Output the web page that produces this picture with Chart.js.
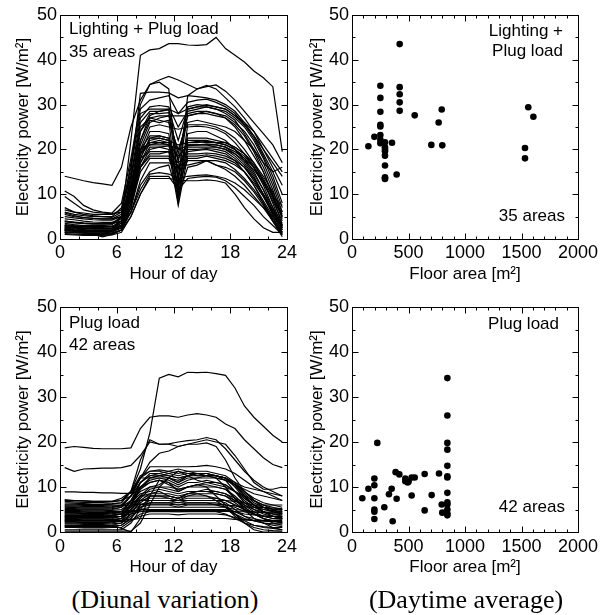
<!DOCTYPE html>
<html>
<head>
<meta charset="utf-8">
<script src="https://cdn.jsdelivr.net/npm/chart.js@4.4.1/dist/chart.umd.min.js"></script>
<style>
  body { margin: 0; background: #fff; }
  #page { position: relative; width: 606px; height: 615px; overflow: hidden; background: #fff; }
  canvas { position: absolute; display: block; }
  .note { position: absolute; font-family: 'Liberation Sans', Arial, sans-serif; font-size: 17px; line-height: 20px; color: #000; white-space: nowrap; }
  .caption { position: absolute; font-family: 'Liberation Serif', 'Times New Roman', serif; font-size: 26px; line-height: 30px; color: #000; white-space: nowrap; transform: translateX(-50%); }
</style>
</head>
<body>
<div id="page">
  <canvas id="lightingDiurnal" width="303" height="290" style="left:0;top:0"></canvas>
  <canvas id="lightingAverage" width="306" height="290" style="left:300px;top:0"></canvas>
  <canvas id="plugDiurnal" width="303" height="290" style="left:0;top:290px"></canvas>
  <canvas id="plugAverage" width="306" height="290" style="left:300px;top:290px"></canvas>

  <div class="note" style="left:69px;top:19px">Lighting + Plug load</div>
  <div class="note" style="left:69px;top:42px">35 areas</div>
  <div class="note" style="right:43px;top:21px;text-align:right">Lighting +<br>Plug load</div>
  <div class="note" style="right:41px;top:206px">35 areas</div>
  <div class="note" style="left:69px;top:313px">Plug load</div>
  <div class="note" style="left:69px;top:335px">42 areas</div>
  <div class="note" style="right:47px;top:314px">Plug load</div>
  <div class="note" style="right:41px;top:497px">42 areas</div>

  <div class="caption" style="left:165px;top:585px">(Diunal variation)</div>
  <div class="caption" style="left:466px;top:585px">(Daytime average)</div>
</div>

<script>
// hour of day (middle of each hourly interval)
const hours = [0.5,1.5,2.5,3.5,4.5,5.5,6.5,7.5,8.5,9.5,10.5,11.5,12.5,13.5,14.5,15.5,16.5,17.5,18.5,19.5,20.5,21.5,22.5,23.5]

// lighting + plug load, 35 areas [W/m2]
const lightingPlugLines = [
  [2.0,1.9,1.8,1.8,1.9,2.0, 5,22,41, 42.2,42.5,43.6, 43.6,43.3,43.2,43.4,45.0,42.5, 41.0,39.5,37.5,36.0,34.0,19.5],
  [14.0,13.5,13.0,12.6,12.3,12.0, 16,25,31, 34.5,35.5,36.3, 35.5,34.5,33.5,34.0,34.4,33.0, 31.0,28.5,26.0,23.5,21.0,17.0],
  [10.7,9.5,7.5,6.5,6.0,5.8, 8,18,30, 34.5,35.0,33.5, 12.5,32.0,33.5,34.3,33.5,31.5, 29.5,27.0,24.0,20.0,16.0,12.0],
  [6.5,6.0,5.5,5.2,5.0,4.8, 6,15,32.5, 32.8,32.8,32.6, 31.5,32.0,31.8,31.5,31.0,30.0, 28.5,26.0,23.0,19.0,15.0,10.0],
  [3.5,3.2,3.0,3.0,3.0,3.2, 5,17,29, 31.0,31.5,32.0, 28.0,30.5,31.0,31.2,30.5,29.5, 28.0,25.5,22.5,18.5,14.0,8.0],
  [2.5,2.4,2.3,2.2,2.2,2.3, 4,14,27, 29.5,29.8,29.5, 25.0,28.5,29.0,29.5,29.0,28.5, 27.0,25.0,22.0,18.0,13.0,7.0],
  [6.0,5.5,5.2,5.0,5.0,5.0, 7,16,28, 29.0,29.0,29.0, 17.0,29.5,30.0,29.8,29.5,29.0, 27.5,25.5,23.0,20.0,17.0,14.0],
  [4.0,3.8,3.6,3.5,3.4,3.4, 5,13,26, 28.5,28.5,28.8, 22.0,29.0,29.5,29.5,29.0,28.0, 26.5,23.5,20.0,16.0,11.0,5.0],
  [2.0,1.8,1.7,1.6,1.6,1.7, 3,10,24, 28.0,28.0,28.2, 14.0,28.0,28.5,28.5,28.0,27.0, 25.0,22.0,18.5,15.0,10.0,4.5],
  [1.5,1.4,1.3,1.2,1.2,1.3, 2,11,25, 27.0,27.5,27.5, 19.0,27.5,28.0,28.0,27.5,27.0, 25.5,23.0,19.5,15.0,9.5,3.0],
  [3.0,2.9,2.8,2.7,2.7,2.8, 4,12,22, 26.5,26.0,26.5, 9.0,25.5,25.5,25.5,25.0,24.0, 22.5,20.0,17.0,13.0,8.0,2.5],
  [2.2,2.0,1.9,1.8,1.8,1.9, 3,9,20, 25.0,25.5,25.0, 24.5,25.0,25.2,25.0,24.5,23.5, 21.5,19.0,16.0,12.5,8.5,4.0],
  [5.0,4.7,4.5,4.3,4.2,4.2, 5,10,19, 24.0,24.0,23.5, 11.0,23.5,24.0,24.0,23.0,22.0, 20.0,17.5,14.5,11.0,7.0,3.5],
  [3.0,2.8,2.5,2.4,2.3,2.4, 3,8,18, 22.5,23.0,22.5, 15.5,22.0,22.0,22.0,21.5,21.5, 20.5,19.0,17.0,14.0,10.5,6.0],
  [2.0,1.9,1.8,1.8,1.8,1.9, 3,9,19, 22.0,22.5,22.0, 8.0,21.5,21.8,21.5,21.5,21.0, 20.0,18.5,16.0,12.0,7.0,2.0],
  [1.8,1.7,1.6,1.6,1.6,1.7, 2.5,7,17, 21.5,22.0,21.5, 18.0,21.0,21.0,21.2,21.0,20.5, 19.0,17.0,14.0,10.0,5.5,1.5],
  [2.6,2.5,2.4,2.3,2.3,2.4, 3.5,11,20, 21.0,21.5,21.0, 20.0,20.8,21.0,21.0,20.5,20.0, 19.0,17.5,15.5,12.5,9.0,5.0],
  [4.5,4.3,4.0,3.8,3.7,3.7, 4.5,10,19, 21.0,21.0,21.0, 12.0,20.5,20.5,20.5,20.5,20.0, 18.5,16.5,13.5,10.0,6.5,3.0],
  [2.0,1.8,1.7,1.7,1.7,1.8, 2.5,8,17, 20.5,20.5,20.8, 16.0,20.0,20.0,20.2,20.0,19.5, 18.0,16.0,13.0,9.5,5.5,2.0],
  [1.2,1.1,1.0,1.0,1.0,1.1, 2,7,16, 20.0,20.5,20.0, 10.0,19.5,19.8,20.0,19.5,19.0, 17.5,15.0,12.0,8.5,5.0,1.0],
  [3.2,3.0,2.9,2.8,2.8,2.9, 3.5,9,18, 22.5,22.5,22.0, 21.0,21.5,21.5,21.8,21.5,21.0, 20.0,18.0,15.0,11.0,6.0,2.5],
  [5.5,5.0,4.8,4.6,4.5,4.5, 5.5,12,20, 23.0,23.0,22.5, 13.5,22.5,22.5,22.5,22.0,21.5, 20.5,19.0,16.5,13.5,9.5,5.5],
  [2.4,2.2,2.1,2.0,2.0,2.1, 3,10,18, 19.5,19.5,19.5, 17.0,19.0,19.0,19.2,19.0,18.5, 17.5,16.0,13.5,10.0,6.0,2.5],
  [1.6,1.5,1.4,1.4,1.4,1.5, 2.5,8,16, 19.0,19.0,19.5, 7.5,18.5,18.5,18.8,18.5,18.0, 17.0,15.0,12.0,8.0,4.0,0.5],
  [3.8,3.6,3.4,3.3,3.3,3.4, 4,9,16, 18.5,18.5,18.5, 14.5,18.0,18.0,18.5,18.0,17.5, 16.5,15.0,12.5,9.5,6.0,3.0],
  [2.8,2.6,2.5,2.4,2.4,2.5, 3,7,15, 18.0,18.0,18.0, 12.5,17.5,17.5,17.5,17.5,17.0, 15.5,13.5,11.0,8.0,4.5,1.5],
  [1.5,1.4,1.3,1.2,1.2,1.3, 2,6,13, 17.0,17.0,17.0, 16.5,16.5,17.0,17.5,16.5,16.0, 15.0,13.0,10.5,7.5,4.0,1.5],
  [2.2,2.0,1.9,1.9,1.9,2.0, 2.5,6,12, 15.0,16.0,16.5, 9.5,16.0,16.5,17.5,16.5,15.5, 14.0,12.0,9.5,7.0,4.0,1.0],
  [3.0,2.8,2.7,2.6,2.6,2.7, 3,6,11, 14.5,14.8,14.5, 13.5,14.0,14.2,14.3,14.0,13.5, 12.5,11.0,9.0,7.0,5.0,3.0],
  [1.0,0.9,0.8,0.8,0.8,0.9, 1.5,5,10, 14.0,14.0,14.0, 11.0,13.5,13.8,14.0,13.8,13.0, 11.5,9.5,7.5,5.0,3.0,1.0],
  [2.5,2.0,1.5,1.0,0.5,1.0, 2,5,10, 13.5,13.5,13.5, 13.2,13.0,13.0,13.2,13.0,12.5, 10.0,7.0,4.5,2.5,1.5,1.5],
  [7.0,6.0,5.8,5.5,5.5,5.5, 6.5,14,24, 27.0,26.5,26.0, 20.0,26.0,26.5,26.0,25.5,25.0, 24.0,22.0,20.0,17.0,15.0,16.0],
  [4.0,3.7,3.5,3.4,3.4,3.5, 4,11,21, 26.0,27.0,27.5, 27.5,27.5,28.0,28.5,28.0,27.5, 26.0,24.0,21.0,17.0,12.0,6.0],
  [5.8,5.2,4.8,4.6,4.5,4.5, 5,12,22, 27.5,28.5,29.0, 28.0,29.0,29.5,30.0,29.5,29.0, 27.5,26.0,24.0,21.0,18.0,15.0],
  [9.5,8.0,6.5,6.0,5.8,5.6, 6,10,20, 21.5,21.5,21.5, 18.5,21.0,21.0,21.0,21.0,20.5, 19.5,18.0,16.0,13.0,9.5,7.5]
]

// plug load only, 42 areas [W/m2]
const plugLines = [
  [7.0,7.0,6.9,6.8,6.8,6.8, 7.5,9,14, 22,34.2,35.0, 34.5,35.5,35.4,35.5,35.2,34.8, 32,28,25.5,23.5,21.5,20.0],
  [18.7,19.0,18.8,18.6,18.5,18.5, 18.5,18.7,23, 25.5,25.8,25.8, 25.5,26.0,26.3,26.0,25.5,24.0, 23.0,20.5,18.5,16.5,15.0,14.3],
  [14.3,13.5,14.0,14.1,14.2,14.2, 14.3,14.8,17, 20.0,19.5,19.6, 20.0,20.3,20.5,21.0,20.5,18.5, 16.0,13.5,11.5,10.0,9.0,8.0],
  [8.9,8.9,8.8,8.8,8.7,8.7, 8.6,8.6,12, 15.5,17.5,18.0, 19.0,19.5,20.0,20.5,20.0,19.5, 17.0,14.0,11.0,9.5,9.5,10.0],
  [6.5,6.4,6.3,6.2,6.2,6.3, 6.5,9,16, 20.5,19.5,19.5, 19.0,19.5,19.5,19.8,19.0,16.0, 12.0,9.0,7.0,6.0,5.5,5.0],
  [5.5,5.4,5.3,5.3,5.3,5.4, 6,8,12, 14.5,14.5,14.5, 14.5,14.5,14.6,14.8,14.5,14.0, 13.0,11.5,10.0,9.0,8.0,7.0],
  [5.0,5.0,4.9,4.9,4.9,5.0, 5.5,8,12, 13.5,13.8,13.5, 13.0,13.5,13.5,13.5,13.0,12.5, 11.0,9.0,7.0,5.5,4.5,4.0],
  [4.5,4.4,4.4,4.3,4.3,4.4, 4.5,6,11, 13.0,13.0,13.5, 14.0,13.5,13.0,13.0,12.5,12.0, 10.0,7.5,6.0,5.0,4.5,4.5],
  [3.5,3.5,3.4,3.4,3.4,3.5, 4,7,11, 12.5,12.5,12.0, 11.5,12.5,13.0,12.5,12.5,12.0, 10.5,8.0,6.0,4.5,3.5,3.0],
  [6.8,6.7,6.6,6.6,6.6,6.7, 7,9,12, 12.0,12.0,11.5, 10.5,11.5,12.0,12.5,12.5,12.0, 10.5,8.5,6.5,5.5,5.0,5.0],
  [2.5,2.5,2.4,2.4,2.4,2.5, 3,6,10, 12.0,12.5,13.0, 13.5,13.0,12.5,12.5,12.0,11.5, 9.0,6.5,5.0,4.0,3.5,3.0],
  [4.0,4.0,3.9,3.9,3.9,4.0, 4.5,7,10, 11.5,12.0,12.0, 11.0,12.0,12.0,12.0,12.0,11.5, 10.5,9.0,7.5,6.5,6.0,5.5],
  [3.0,3.0,2.9,2.9,2.9,3.0, 3.5,6,9.5, 11.0,11.5,11.0, 10.0,11.0,11.0,11.5,11.0,10.5, 9.0,7.0,5.5,4.5,4.0,3.5],
  [5.2,5.2,5.1,5.1,5.1,5.2, 5.5,7,9, 10.0,10.5,12.0, 13.5,12.5,11.5,11.0,11.0,10.5, 9.0,7.5,6.0,5.5,5.0,4.8],
  [2.0,2.0,1.9,1.9,1.9,2.0, 2.5,5,8, 10.0,10.0,9.5, 9.0,10.0,10.5,10.5,10.0,9.5, 7.5,5.5,4.0,3.0,2.5,2.0],
  [4.8,4.8,4.7,4.7,4.7,4.8, 5,6.5,8.5, 9.0,9.5,9.0, 8.5,9.0,9.0,9.5,9.0,8.5, 7.5,6.5,5.5,5.0,4.8,4.5],
  [1.5,1.5,1.4,1.4,1.4,1.5, 2,4,7, 8.5,9.0,8.0, 7.5,8.5,9.0,9.0,9.0,8.5, 7.0,5.5,4.0,3.0,2.5,2.0],
  [3.7,3.7,3.6,3.6,3.6,3.7, 4,5.5,8, 8.5,8.5,8.5, 8.0,8.5,8.5,8.5,8.5,8.0, 7.0,6.0,5.0,4.5,4.0,3.8],
  [0.5,0.5,0.5,0.5,0.5,0.5, 0.5,2,5, 8.0,8.0,8.0, 7.5,8.0,8.5,8.0,7.0,5.5, 3.5,2.0,1.0,0.5,0.3,0.2],
  [2.8,2.8,2.7,2.7,2.7,2.8, 3,5,7, 7.5,7.5,7.5, 7.0,7.5,7.5,7.5,7.5,7.0, 6.0,5.0,4.0,3.5,3.0,3.0],
  [6.0,6.0,5.9,5.9,5.9,6.0, 6,6.5,7, 7.0,7.0,7.0, 7.0,7.0,7.0,7.0,7.0,7.0, 6.8,6.5,6.0,6.0,6.0,6.0],
  [1.2,1.2,1.1,1.1,1.1,1.2, 1.5,3,6, 7.0,7.0,7.0, 6.5,7.0,7.0,7.0,7.0,6.5, 5.0,3.5,2.5,2.0,1.5,1.2],
  [3.2,3.2,3.1,3.1,3.1,3.2, 3.5,4.5,6, 6.5,6.5,6.5, 6.5,6.5,6.5,6.5,6.5,6.0, 5.5,4.5,4.0,3.5,3.5,3.2],
  [5.8,5.8,5.7,5.7,5.7,5.8, 5.8,6,6.2, 6.2,6.2,6.2, 6.0,6.2,6.2,6.2,6.2,6.0, 5.8,5.6,5.5,5.4,5.3,5.2],
  [2.2,2.2,2.1,2.1,2.1,2.2, 2.5,4,5.5, 6.0,6.0,6.0, 5.5,6.0,6.0,6.0,6.0,5.5, 4.5,3.5,3.0,2.5,2.3,2.2],
  [4.2,4.2,4.1,4.1,4.1,4.2, 4.2,4.5,5, 5.5,5.5,5.5, 5.5,5.5,5.5,5.5,5.5,5.5, 5.0,4.8,4.5,4.3,4.2,4.2],
  [1.8,1.8,1.7,1.7,1.7,1.8, 2,3.5,5, 5.0,5.0,5.0, 5.0,5.0,5.0,5.0,5.0,5.0, 4.0,3.0,2.5,2.0,1.8,1.8],
  [3.4,3.4,3.3,3.3,3.3,3.4, 3.5,4,4.5, 4.8,4.8,4.8, 4.8,4.8,4.8,4.8,4.8,4.8, 4.5,4.0,3.8,3.6,3.5,3.4],
  [2.6,2.6,2.5,2.5,2.5,2.6, 2.6,2.8,3, 3.0,3.0,3.0, 3.0,3.0,3.0,3.0,3.0,3.0, 2.8,2.7,2.6,2.6,2.6,2.6],
  [1.0,1.0,0.9,0.9,0.9,1.0, 1,2.5,4, 4.5,4.5,4.5, 4.5,4.5,4.5,4.5,4.5,4.0, 3.0,2.0,1.5,1.2,1.0,1.0],
  [4.6,4.6,4.5,4.5,4.5,4.6, 4.6,4.7,4.7, 4.6,4.6,4.6, 4.5,4.6,4.6,4.6,4.6,4.6, 4.5,4.5,4.4,4.4,4.4,4.4],
  [2.3,2.3,2.2,2.2,2.2,2.3, 2.3,2.5,3.5, 4.0,4.0,4.0, 3.8,4.0,4.0,4.0,4.0,3.8, 3.2,2.8,2.5,2.4,2.3,2.3],
  [0.2,0.2,0.2,0.2,0.2,0.2, 0.2,0.2,2, 6.0,10.0,12.0, 11.0,12.5,13.0,12.5,12.0,10.0, 7.5,5.0,3.0,2.0,1.0,0.5],
  [1.5,1.5,1.4,1.4,1.4,1.5, 0.8,0,3, 8.0,11.5,11.0, 9.0,10.0,10.5,10.0,8.0,6.0, 4.0,2.0,0.5,0,0,0],
  [7.2,7.0,6.9,6.8,6.8,6.8, 7,8,10, 11.0,11.5,10.5, 9.5,10.0,10.5,11.0,10.5,10.0, 9.0,8.0,7.0,6.0,5.0,4.0],
  [3.8,3.8,3.7,3.7,3.7,3.8, 4,5,7.5, 9.5,10.0,10.0, 9.5,10.0,10.0,10.0,10.0,9.5, 8.0,6.0,4.5,3.5,3.0,2.8],
  [5.6,5.6,5.5,5.5,5.5,5.6, 5.8,8,11, 12.5,13.0,12.5, 12.0,12.5,13.0,13.0,12.5,11.5, 10.5,9.5,8.5,8.0,7.5,7.0],
  [2.7,2.7,2.6,2.6,2.6,2.7, 3,4.5,6.5, 8.0,8.0,7.5, 7.0,8.0,8.0,8.0,7.5,7.0, 6.0,5.0,4.0,3.0,2.0,1.5],
  [6.2,6.2,6.1,6.1,6.1,6.2, 6.5,9,12.5, 13.5,13.5,13.0, 12.5,13.0,13.0,13.0,12.5,12.0, 11.0,10.0,9.5,9.0,8.5,8.0],
  [4.3,4.3,4.2,4.2,4.2,4.3, 4.5,6,8, 8.0,8.0,8.0, 7.5,8.5,9.0,9.0,8.5,8.0, 6.5,5.0,4.0,3.5,3.5,3.5],
  [1.3,1.3,1.2,1.2,1.2,1.3, 1.5,3,5.5, 6.5,6.5,6.5, 6.0,6.5,6.5,6.5,6.0,5.5, 4.0,2.5,1.5,1.0,0.8,0.5],
  [3.3,3.3,3.2,3.2,3.2,3.3, 3.5,6,9.5, 12.0,12.5,12.5, 12.0,12.5,12.5,12.5,12.5,12.0, 10.5,8.0,6.0,4.5,3.5,3.0]
]

// daytime average vs floor area, lighting + plug load
const lightingFloorArea = [145,198,251,251,251,251,251,251,251,251,292,292,292,292,292,292,292,292,292,354,395,422,422,422,422,422,555,702,767,794,799,1531,1531,1560,1605]
const lightingPower =     [20.7,22.8,34.2,31.5,28.4,25.5,25.1,23.2,22.2,21.4,21.6,20.5,20.0,19.6,18.6,16.4,13.8,13.6,13.4,21.5,14.4,43.5,33.9,32.3,30.5,28.6,27.6,21.0,26.0,28.9,20.9,20.3,18.0,29.4,27.3]

// daytime average vs floor area, plug load only
const plugFloorArea = [91,145,198,198,198,198,198,198,224,286,327,351,360,386,395,419,472,472,493,501,528,528,555,643,643,705,770,794,799,844,844,844,844,844,844,844,844,844,844,844,844,844]
const plugPower =     [7.5,9.6,11.9,10.4,7.5,5.0,4.5,2.9,19.8,5.5,8.4,9.6,2.4,13.3,7.4,12.8,11.9,11.3,11.0,11.2,12.1,8.1,12.1,12.9,4.8,8.2,13.0,6.1,4.3,34.2,25.9,19.8,18.3,14.7,12.4,12.1,8.7,6.6,6.1,5.0,4.1,3.7]

Chart.defaults.font.family = "'Liberation Sans', Arial, sans-serif"
Chart.defaults.font.size = 17
Chart.defaults.color = '#000'

// box round the plot and inward ticks on all four sides
const frameTicks = {
  id: 'frameTicks',
  afterDraw(chart, args, opts) {
    const {ctx, chartArea: a, scales: {x, y}} = chart
    const l = Math.round(a.left) + 0.5, r = Math.round(a.right) + 0.5
    const t = Math.round(a.top) + 0.5, b = Math.round(a.bottom) + 0.5
    ctx.save()
    ctx.strokeStyle = '#000'
    ctx.lineWidth = 1
    ctx.beginPath()
    for (let v = x.min; v <= x.max + 1e-9; v += opts.xMinor) {
      const px = Math.round(x.getPixelForValue(v)) + 0.5
      const len = Math.abs(v % opts.xMajor) < 1e-9 ? 6 : 3
      ctx.moveTo(px, b); ctx.lineTo(px, b - len)
      ctx.moveTo(px, t); ctx.lineTo(px, t + len)
    }
    for (let v = y.min; v <= y.max + 1e-9; v += 5) {
      const py = Math.round(y.getPixelForValue(v)) + 0.5
      const len = v % 10 === 0 ? 6 : 3
      ctx.moveTo(l, py); ctx.lineTo(l + len, py)
      ctx.moveTo(r, py); ctx.lineTo(r - len, py)
    }
    ctx.stroke()
    ctx.strokeRect(l, t, r - l, b - t)
    ctx.restore()
  }
}

function panelOptions(p) {
  return {
    responsive: false,
    animation: false,
    events: [],
    layout: {padding: {top: p.padTop, right: p.padRight, left: 0, bottom: 0}},
    plugins: {
      legend: {display: false},
      tooltip: {enabled: false},
      frameTicks: {xMajor: p.xStep, xMinor: p.xMinor}
    },
    scales: {
      x: {
        type: 'linear',
        min: 0,
        max: p.xMax,
        grid: {display: false, drawTicks: false},
        border: {display: false},
        ticks: {stepSize: p.xStep, padding: p.xTickPad, maxRotation: 0, autoSkip: false, font: {size: 18}, callback: v => String(v)},
        title: {display: true, text: p.xTitle, padding: {top: 0, bottom: p.xTitlePad}},
        afterFit: s => { s.height = p.xHeight }
      },
      y: {
        min: 0,
        max: 50,
        grid: {display: false, drawTicks: false},
        border: {display: false},
        ticks: {stepSize: 10, padding: 3, font: {size: 18}, callback: v => String(v)},
        title: {display: true, text: 'Electricity power [W/m²]', padding: {top: p.yTitlePad, bottom: 0}},
        afterFit: s => { s.width = p.yWidth }
      }
    }
  }
}

function lineDatasets(lines) {
  return lines.map(vals => ({
    data: hours.map((h, i) => ({x: h, y: vals[i]})),
    borderColor: '#000',
    borderWidth: 1.2,
    pointRadius: 0,
    fill: false,
    tension: 0
  }))
}

function scatterDataset(xs, ys) {
  return [{
    data: xs.map((x, i) => ({x, y: ys[i]})),
    backgroundColor: '#000',
    borderWidth: 0,
    pointRadius: 3.3
  }]
}

const diurnal = {xMax: 24, xStep: 6, xMinor: 2, xTitle: 'Hour of day', yWidth: 60, yTitlePad: 13, padRight: 16}
const average = {xMax: 2000, xStep: 500, xMinor: 100, xTitle: 'Floor area [m²]', yWidth: 52, yTitlePad: 7, padRight: 28}
const topRow = {padTop: 15, xHeight: 51, xTickPad: 3, xTitlePad: 5}
const bottomRow = {padTop: 17, xHeight: 48, xTickPad: 4, xTitlePad: 2}

new Chart(document.getElementById('lightingDiurnal'), {
  type: 'line',
  data: {datasets: lineDatasets(lightingPlugLines)},
  options: panelOptions({...diurnal, ...topRow}),
  plugins: [frameTicks]
})

new Chart(document.getElementById('lightingAverage'), {
  type: 'scatter',
  data: {datasets: scatterDataset(lightingFloorArea, lightingPower)},
  options: panelOptions({...average, ...topRow}),
  plugins: [frameTicks]
})

new Chart(document.getElementById('plugDiurnal'), {
  type: 'line',
  data: {datasets: lineDatasets(plugLines)},
  options: panelOptions({...diurnal, ...bottomRow}),
  plugins: [frameTicks]
})

new Chart(document.getElementById('plugAverage'), {
  type: 'scatter',
  data: {datasets: scatterDataset(plugFloorArea, plugPower)},
  options: panelOptions({...average, ...bottomRow}),
  plugins: [frameTicks]
})
</script>
</body>
</html>
